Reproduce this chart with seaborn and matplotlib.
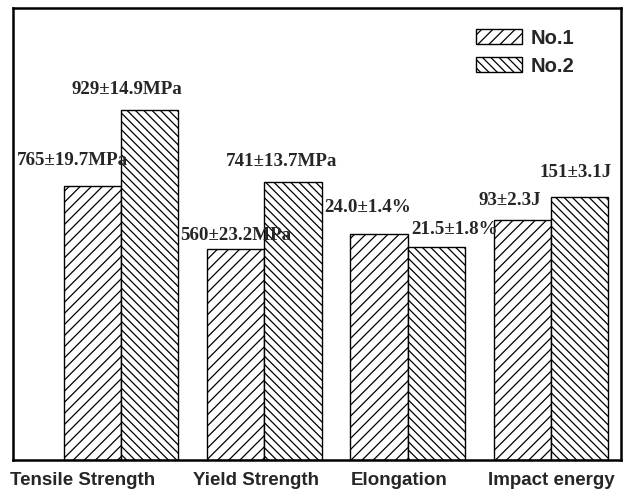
import matplotlib
matplotlib.use("Agg")
import matplotlib.pyplot as plt
from matplotlib.patches import Patch
import numpy as np
import pandas as pd
import seaborn as sns

# properties and the two samples
props = ["Tensile Strength", "Yield Strength", "Elongation", "Impact energy"]
samples = ["No.1", "No.2"]
# bar heights as drawn (relative scale, the units differ per property)
h_no1 = [60.6, 46.7, 50.0, 53.1]
h_no2 = [77.4, 61.5, 47.1, 58.2]
lab_no1 = ["765±19.7MPa", "560±23.2MPa", "24.0±1.4%", "93±2.3J"]
lab_no2 = ["929±14.9MPa", "741±13.7MPa", "21.5±1.8%", "151±3.1J"]

df = pd.DataFrame({
    "prop": props * 2,
    "sample": [samples[0]] * 4 + [samples[1]] * 4,
    "h": h_no1 + h_no2,
})

sns.set_style("white")
plt.rcParams["hatch.linewidth"] = 0.9

fig = plt.figure(figsize=(6.26, 4.93), dpi=100)
ax = fig.add_axes([0.0208, 0.067, 0.971, 0.917])

sns.barplot(data=df, x="prop", y="h", hue="sample", order=props,
            hue_order=samples, palette=["white", "white"], width=0.8,
            edgecolor="black", linewidth=1.0, legend=False, ax=ax)

hatches = ["///", "\\\\\\\\"]
bars = ax.patches
for i, b in enumerate(bars[:8]):
    b.set_hatch(hatches[i // 4])

# value labels, nudged like in the original figure
dx1 = [-0.14, 0.0, -0.08, -0.09]
dy1 = [5.75, 2.9, 5.75, 4.4]
dx2 = [-0.16, -0.08, 0.13, -0.03]
dy2 = [4.6, 4.6, 3.8, 5.3]
tfont = dict(family="Liberation Serif", weight="bold", fontsize=13.7)
for i in range(4):
    b1, b2 = bars[i], bars[i + 4]
    ax.text(b1.get_x() + b1.get_width() / 2 + dx1[i], b1.get_height() + dy1[i],
            lab_no1[i], ha="center", va="center", **tfont)
    ax.text(b2.get_x() + b2.get_width() / 2 + dx2[i], b2.get_height() + dy2[i],
            lab_no2[i], ha="center", va="center", **tfont)

ax.set_xlim(-0.7535, 3.488)
ax.set_ylim(0, 100)
shift = [-0.27, -0.06, -0.06, 0.0]
ax.set_xticks(np.arange(4) + np.array(shift))
ax.set_xticklabels(props, fontfamily="Liberation Sans", fontweight="bold", fontsize=13.5)
ax.tick_params(axis="x", length=0, pad=9)
ax.set_yticks([])
ax.set_xlabel("")
ax.set_ylabel("")
for s in ax.spines.values():
    s.set_color("black")
    s.set_linewidth(1.8)

handles = [Patch(facecolor="white", edgecolor="black", hatch=h) for h in hatches]
ax.legend(handles, samples, loc="upper right", frameon=False,
          bbox_to_anchor=(0.954, 0.994), handlelength=2.3, handleheight=0.75,
          handletextpad=0.45,
          prop=dict(family="Liberation Sans", weight="bold", size=14.5),
          labelspacing=0.45)

fig.savefig("out.png", dpi=100)
